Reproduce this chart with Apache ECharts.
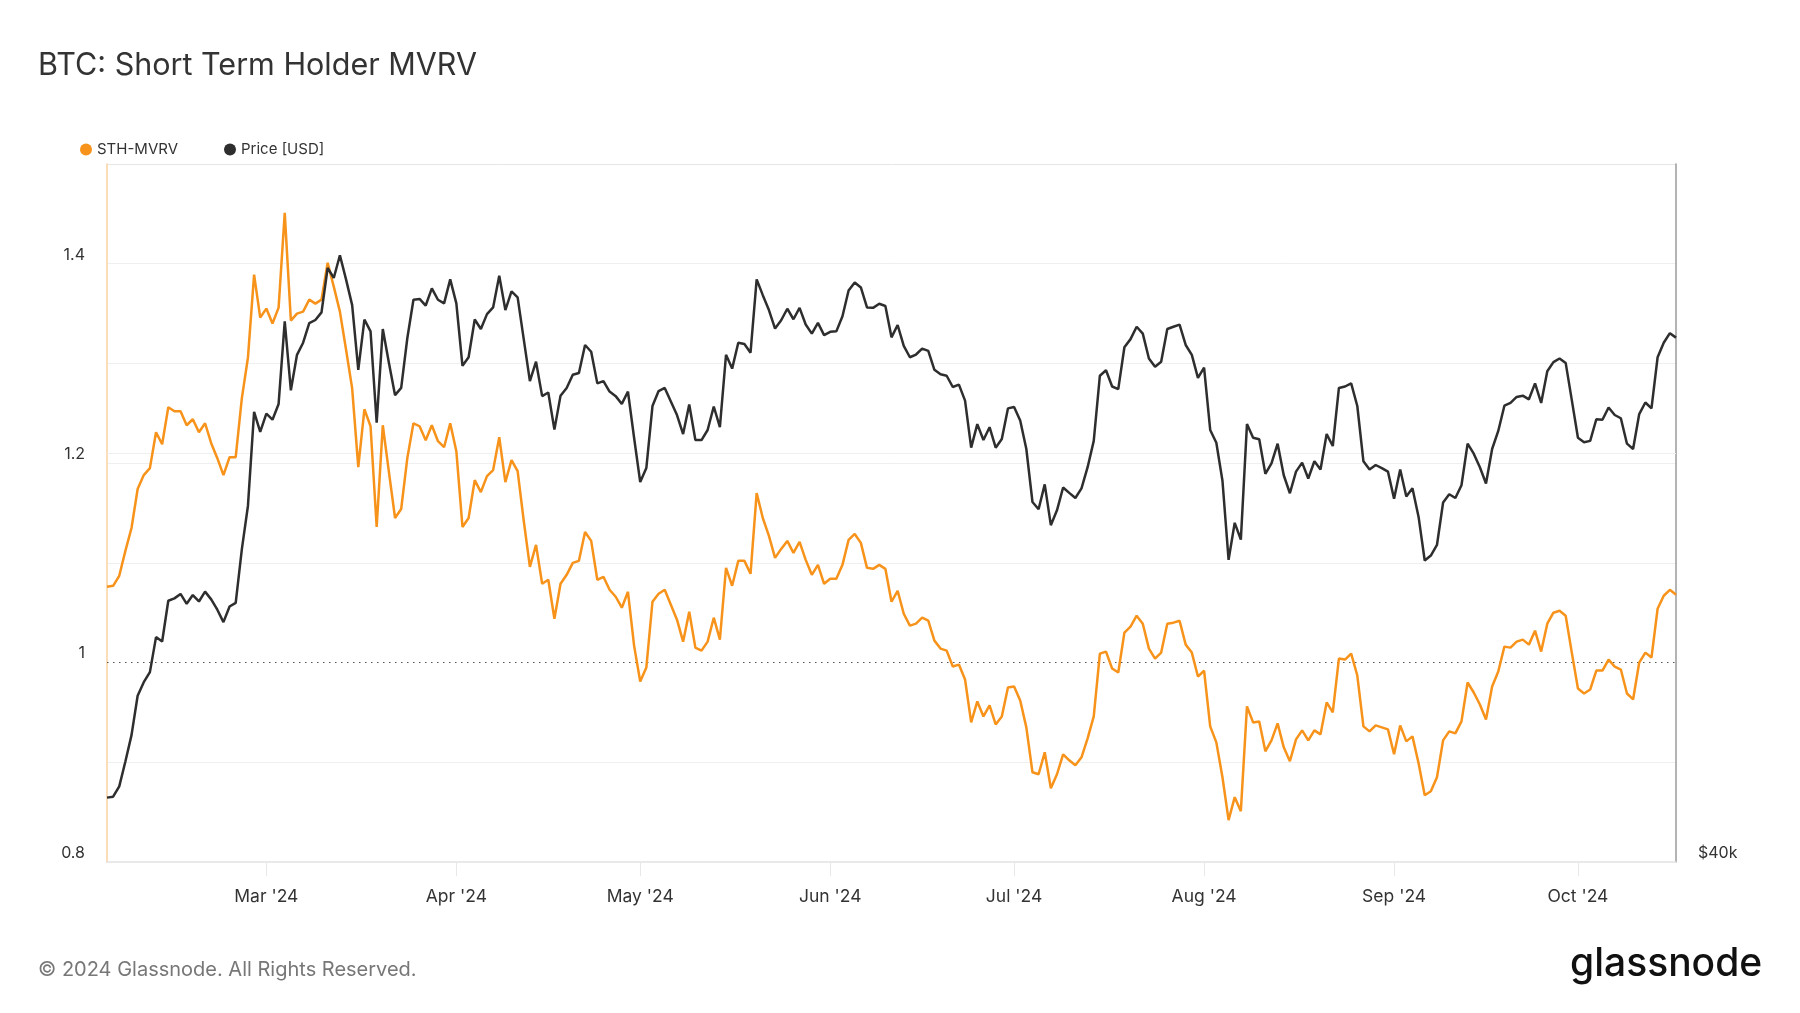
<!DOCTYPE html>
<html>
<head>
<meta charset="utf-8">
<script src="https://cdn.jsdelivr.net/npm/echarts@6/dist/echarts.min.js"></script>
<style>
html,body{margin:0;padding:0;background:#ffffff;}
#chart{width:1800px;height:1013px;}
</style>
</head>
<body>
<div id="chart"></div>
<script>
// ---------- DATA (daily, 2024-02-04 .. 2024-10-17) ----------
const startDate = '2024-02-04';

const sthMvrv = [
  1.076, 1.077, 1.087, 1.112, 1.135, 1.174, 1.188, 1.195, 1.231, 1.219, 1.256, 1.252, 1.252, 1.238, 1.244, 1.231, 1.240, 1.220, 1.205, 1.188, 1.206, 1.206, 1.265, 1.306, 1.389, 1.346, 1.355, 1.340, 1.356, 1.451, 1.343, 1.350, 1.352, 1.364, 1.360, 1.364, 1.401,
  1.377, 1.352, 1.314, 1.275, 1.196, 1.254, 1.237, 1.136, 1.238, 1.191, 1.145, 1.154, 1.205, 1.240, 1.237, 1.223, 1.238, 1.222, 1.216, 1.240, 1.212, 1.136, 1.145, 1.183, 1.171, 1.187, 1.193, 1.226, 1.181, 1.203, 1.192, 1.142, 1.096, 1.118, 1.079, 1.083, 1.044,
  1.079, 1.088, 1.100, 1.102, 1.131, 1.122, 1.083, 1.086, 1.073, 1.066, 1.055, 1.071, 1.017, 0.981, 0.995, 1.061, 1.069, 1.073, 1.058, 1.043, 1.021, 1.051, 1.015, 1.012, 1.021, 1.045, 1.023, 1.095, 1.077, 1.102, 1.102, 1.089, 1.170, 1.145, 1.127, 1.105, 1.114,
  1.122, 1.110, 1.121, 1.103, 1.088, 1.098, 1.079, 1.084, 1.084, 1.098, 1.123, 1.129, 1.120, 1.095, 1.094, 1.098, 1.094, 1.061, 1.072, 1.049, 1.037, 1.039, 1.045, 1.042, 1.022, 1.014, 1.012, 0.996, 0.998, 0.983, 0.940, 0.961, 0.946, 0.957, 0.938, 0.946,
  0.975, 0.976, 0.962, 0.935, 0.890, 0.888, 0.910, 0.874, 0.888, 0.908, 0.902, 0.897, 0.905, 0.924, 0.946, 1.009, 1.011, 0.994, 0.990, 1.030, 1.036, 1.047, 1.039, 1.014, 1.004, 1.010, 1.039, 1.040, 1.042, 1.018, 1.010, 0.986, 0.992, 0.936, 0.920, 0.885, 0.842,
  0.865, 0.851, 0.956, 0.940, 0.941, 0.911, 0.922, 0.939, 0.915, 0.901, 0.923, 0.932, 0.922, 0.932, 0.928, 0.960, 0.950, 1.004, 1.003, 1.009, 0.987, 0.936, 0.931, 0.937, 0.935, 0.933, 0.908, 0.937, 0.921, 0.926, 0.899, 0.867, 0.871, 0.885, 0.922, 0.931,
  0.929, 0.941, 0.980, 0.970, 0.958, 0.943, 0.976, 0.991, 1.016, 1.015, 1.021, 1.023, 1.018, 1.032, 1.011, 1.039, 1.050, 1.052, 1.047, 1.010, 0.974, 0.969, 0.973, 0.992, 0.992, 1.003, 0.996, 0.993, 0.969, 0.963, 1.000, 1.010, 1.005, 1.054, 1.067, 1.073, 1.068
];

const priceUsd = [
  42640, 42680, 43120, 44200, 45370, 47180, 47820, 48300, 50010, 49790, 51850, 51970, 52200, 51690, 52140, 51810, 52320, 51920, 51390, 50760, 51550, 51740, 54560, 56980, 62540, 61320, 62430, 62060, 63040, 68430, 63900, 66190, 66990, 68300, 68520, 69040, 72150,
  71440, 73070, 71340, 69540, 65210, 68550, 67750, 61870, 67910, 65660, 63590, 64050, 67290, 69910, 69970, 69510, 70710, 69910, 69660, 71340, 69660, 65470, 66030, 68550, 67910, 68920, 69380, 71600, 69200, 70490, 70080, 67210, 64480, 65740, 63530, 63760, 61450,
  63560, 64050, 64890, 65010, 66840, 66390, 64340, 64480, 63820, 63530, 63040, 63820, 60960, 58330, 59150, 62910, 63850, 64050, 63190, 62350, 61180, 63000, 60820, 60820, 61430, 62880, 61600, 66190, 65290, 66990, 66900, 66330, 71340, 70230, 69200, 67940, 68500,
  69290, 68570, 69350, 68210, 67600, 68320, 67500, 67720, 67750, 68770, 70550, 71120, 70770, 69380, 69350, 69630, 69480, 67350, 68180, 66780, 66030, 66210, 66600, 66450, 65210, 64920, 64830, 64110, 64260, 63250, 60360, 61790, 60820, 61600, 60360, 60880,
  62760, 62850, 62010, 60280, 57190, 56780, 58200, 55890, 56720, 58020, 57710, 57420, 57970, 59200, 60770, 64830, 65180, 64140, 63970, 66690, 67230, 68060, 67600, 65950, 65410, 65740, 67910, 68060, 68210, 66840, 66190, 64690, 65350, 61430, 60660, 58410, 54000,
  56020, 55090, 61790, 60960, 60870, 58810, 59420, 60600, 58730, 57690, 58940, 59470, 58540, 59550, 59070, 61180, 60460, 64050, 64140, 64340, 62910, 59550, 59070, 59330, 59150, 58940, 57370, 59070, 57500, 57970, 56350, 53960, 54230, 54800, 57160, 57630,
  57420, 58150, 60600, 60000, 59200, 58250, 60280, 61370, 62930, 63100, 63480, 63560, 63330, 64340, 63100, 65120, 65710, 65950, 65660, 63280, 60960, 60690, 60770, 62090, 62060, 62820, 62350, 62150, 60600, 60280, 62410, 63130, 62760, 66030, 66990, 67630, 67330
];

const leftTickLabels = [0.8, 1, 1.2, 1.4];
const rightTickLabels = [{ value: 40000, text: '$40k' }];
const monthNames = ['Jan','Feb','Mar','Apr','May','Jun','Jul','Aug','Sep','Oct','Nov','Dec'];

// daily category labels
const dates = [];
(function () {
  const t0 = Date.parse(startDate + 'T00:00:00Z');
  for (let i = 0; i < sthMvrv.length; i++) {
    dates.push(new Date(t0 + i * 86400000).toISOString().slice(0, 10));
  }
})();

const isMonthStart = (i, v) => String(v).slice(8, 10) === '01';

const chart = echarts.init(document.getElementById('chart'), null, { renderer: 'canvas' });

const FONT = 'Inter';
const ORANGE = '#f7931a';
const DARK = '#2e2e2e';

chart.setOption({
  animation: false,
  backgroundColor: '#ffffff',
  title: {
    text: 'BTC: Short Term Holder MVRV',
    left: 38,
    top: 50,
    padding: 0,
    textStyle: { fontFamily: FONT, fontSize: 30.5, fontWeight: 'normal', color: '#333333' }
  },
  legend: {
    left: 80,
    top: 142,
    padding: 0,
    icon: 'circle',
    itemWidth: 12,
    itemHeight: 12,
    itemGap: 46,
    textStyle: { fontFamily: FONT, fontSize: 15, color: '#333333' },
    data: ['STH-MVRV', 'Price [USD]']
  },
  grid: { left: 107, right: 124, top: 164, bottom: 151, containLabel: false },
  xAxis: {
    type: 'category',
    data: dates,
    boundaryGap: false,
    axisLine: { show: true, lineStyle: { color: '#e2e2e2', width: 1.5 } },
    axisTick: { show: true, interval: isMonthStart, length: 14, lineStyle: { color: '#e8e8e8', width: 1 } },
    axisLabel: {
      interval: isMonthStart,
      formatter: v => monthNames[+v.slice(5, 7) - 1] + " '" + v.slice(2, 4),
      color: '#333333', fontFamily: FONT, fontSize: 17.5, margin: 26
    },
    splitLine: { show: false }
  },
  yAxis: [
    {
      type: 'value',
      position: 'left',
      min: 0.8, max: 1.5, interval: 0.1,
      axisLine: { show: true, lineStyle: { color: '#fbd2a2', width: 1.5 } },
      axisTick: { show: false },
      axisLabel: {
        showMinLabel: true,
        formatter: v => leftTickLabels.some(t => Math.abs(t - v) < 1e-6) ? String(+(+v).toFixed(1)) : '',
        color: '#333333', fontFamily: FONT, fontSize: 16, margin: 22,
        verticalAlign: 'bottom', lineHeight: 18
      },
      splitLine: {
        show: true,
        lineStyle: {
          color: ['transparent', '#efefef', 'transparent', '#efefef', '#efefef', '#efefef', '#efefef', '#e6e6e6'],
          width: 1
        }
      }
    },
    {
      type: 'log',
      logBase: 10,
      position: 'right',
      min: 40000, max: 80000,
      axisLine: { show: true, onZero: false, lineStyle: { color: '#9a9a9a', width: 1.5 } },
      axisTick: { show: false },
      axisLabel: {
        showMinLabel: true,
        showMaxLabel: false,
        formatter: v => {
          const hit = rightTickLabels.find(t => Math.abs(t.value - v) < 200);
          return hit ? hit.text : '';
        },
        color: '#333333', fontFamily: FONT, fontSize: 16, margin: 22,
        verticalAlign: 'bottom', lineHeight: 18
      },
      splitLine: { show: false }
    }
  ],
  series: [
    {
      name: 'STH-MVRV',
      type: 'line',
      yAxisIndex: 0,
      data: sthMvrv,
      symbol: 'none',
      showSymbol: false,
      lineStyle: { color: ORANGE, width: 2.5 },
      itemStyle: { color: ORANGE },
      z: 3,
      markLine: {
        silent: true,
        symbol: 'none',
        z: 1,
        label: { show: false },
        lineStyle: { color: '#555555', type: [1.5, 4.5], width: 1.2 },
        data: [{ yAxis: 1 }]
      }
    },
    {
      name: 'Price [USD]',
      type: 'line',
      yAxisIndex: 1,
      data: priceUsd,
      symbol: 'none',
      showSymbol: false,
      lineStyle: { color: DARK, width: 2.5 },
      itemStyle: { color: DARK },
      z: 4,
      markLine: {
        silent: true,
        symbol: 'none',
        z: 1,
        label: { show: false },
        lineStyle: { color: '#efefef', type: 'solid', width: 1 },
        data: [{ yAxis: 60000 }]
      }
    }
  ],
  graphic: [
    {
      type: 'text',
      left: 38,
      top: 960,
      style: { text: '© 2024 Glassnode. All Rights Reserved.', fontFamily: FONT, fontSize: 20, fill: '#777777' }
    },
    {
      type: 'text',
      left: 1570,
      top: 945,
      style: { text: 'glassnode', fontFamily: FONT, fontSize: 39, fontWeight: 500, fill: '#111111' }
    }
  ]
});
</script>
</body>
</html>
